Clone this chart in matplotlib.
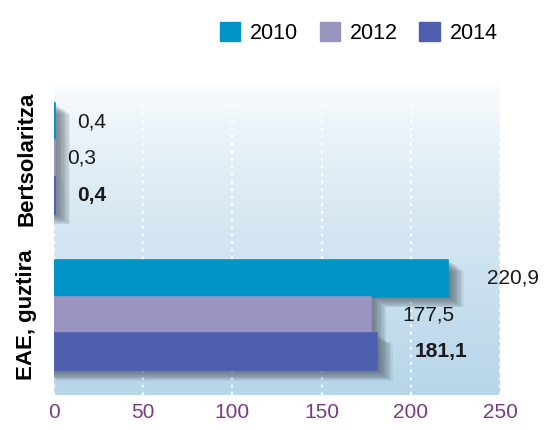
import numpy as np
import matplotlib.pyplot as plt
from matplotlib.patches import Rectangle

categories = ['EAE, guztira', 'Bertsolaritza']
years = ['2010', '2012', '2014']
values_2010 = [220.9, 0.4]
values_2012 = [177.5, 0.3]
values_2014 = [181.1, 0.4]
labels_2010 = ['220,9', '0,4']
labels_2012 = ['177,5', '0,3']
labels_2014 = ['181,1', '0,4']

colors = ['#0095c6', '#9a94c0', '#4e5fad']
series = [values_2010, values_2012, values_2014]
series_labels = [labels_2010, labels_2012, labels_2014]

plt.rcParams['font.family'] = ['Liberation Sans', 'DejaVu Sans']

fig = plt.figure(figsize=(5.44, 4.30), dpi=100)
ax = fig.add_axes([54 / 544, 35 / 430, 446 / 544, 315 / 430])

# vertical gradient: white at the top, light blue at the bottom
grad = np.linspace(0, 1, 256).reshape(-1, 1) ** 0.7
top = np.array([1.0, 1.0, 1.0])
bottom = np.array([0xb8, 0xd6, 0xea]) / 255
img = top * (1 - grad[..., None]) + bottom * grad[..., None]
ax.imshow(img, extent=[0, 250, -0.51, 1.5], aspect='auto', zorder=0)

ax.set_xlim(0, 250)
ax.set_ylim(-0.51, 1.5)

for x in range(0, 251, 50):
    ax.axvline(x, color='white', lw=1.6, ls=(0, (1.2, 2.2)), zorder=1)

bar_h = 0.235
offsets = [bar_h, 0, -bar_h]
ypos = np.arange(len(categories))

# soft drop shadow, stacked translucent boxes
px_x = 250 / 446
px_y = 2.01 / 315
for vals, off in zip(series, offsets):
    for y, v in zip(ypos, vals):
        for k in range(1, 13):
            ax.add_patch(Rectangle((0, y + off - bar_h / 2 - k * 0.9 * px_y),
                                   v + k * 1.3 * px_x, bar_h,
                                   color='#3e4a55', alpha=0.08, lw=0, zorder=2))

for vals, off, c in zip(series, offsets, colors):
    ax.barh(ypos + off, vals, height=bar_h, color=c, edgecolor=c, lw=1.2, zorder=3)

# value labels; the 2014 ones are bold
pads = [[28, 16], [23, 9], [27, 16]]
for vals, labs, off, pad, i in zip(series, series_labels, offsets, pads, range(3)):
    for y, v, lab, p in zip(ypos, vals, labs, pad):
        ax.annotate(lab, (v, y + off), xytext=(p, 0), textcoords='offset points',
                    va='center', ha='left', fontsize=15,
                    fontweight='bold' if i == 2 else 'normal', color='#1a1a1a', zorder=4)

ax.set_yticks(ypos)
ax.set_yticklabels(categories, rotation=90, va='center', fontsize=16, fontweight='bold')
ax.tick_params(axis='y', length=0, pad=12)
ax.set_xticks(range(0, 251, 50))
ax.tick_params(axis='x', length=0, pad=6, labelsize=15, labelcolor='#7a3b86')
for s in ax.spines.values():
    s.set_visible(False)

# legend at the top right
handles = [Rectangle((0, 0), 1, 1, color=c) for c in colors]
fig.legend(handles, years, loc='upper right', bbox_to_anchor=(0.95, 0.995), ncol=3,
           frameon=False, fontsize=15.5, handlelength=0.95, handleheight=1.05,
           handletextpad=0.45, columnspacing=1.0)

fig.savefig('out.png', dpi=100)
